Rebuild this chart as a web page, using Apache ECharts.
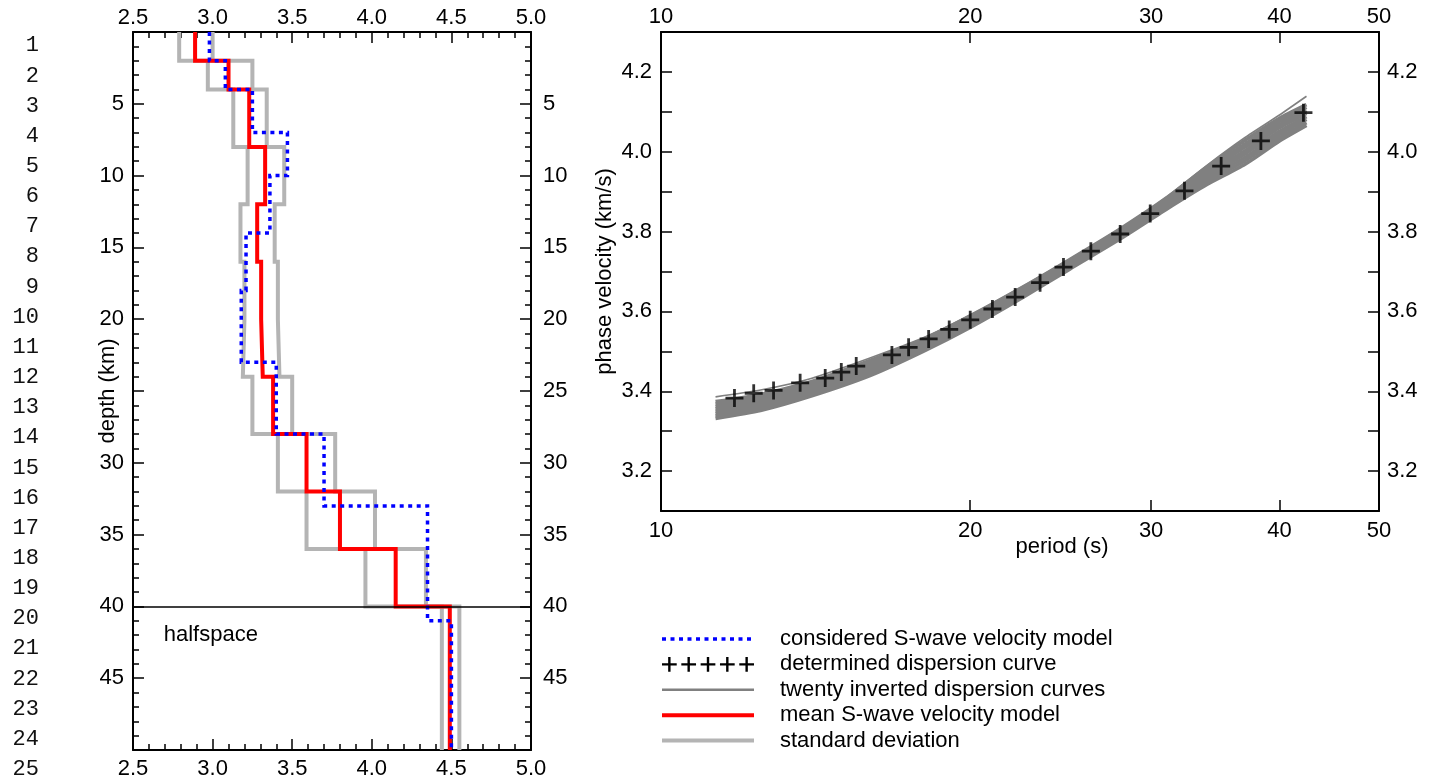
<!DOCTYPE html>
<html>
<head>
<meta charset="utf-8">
<script src="https://cdn.jsdelivr.net/npm/echarts@6/dist/echarts.min.js"></script>
<style>html,body{margin:0;padding:0;background:#fff}#c{width:1439px;height:776px}</style>
</head>
<body>
<div id="c"></div>
<script>
// ---------- data: left panel (S-wave velocity models vs depth) ----------
const layerLabels = ['1','2','3','4','5','6','7','8','9','10','11','12','13','14','15','16','17','18','19','20','21','22','23','24','25'];
const consideredDepths = [0, 2, 4, 7, 10, 14, 18, 23, 28, 33, 41, 50];
const consideredVs     = [2.98, 3.08, 3.25, 3.47, 3.36, 3.21, 3.18, 3.40, 3.70, 4.35, 4.50];
const meanDepths = [0, 2, 4, 8, 12, 16, 20, 24, 28, 32, 36, 40, 50];
const meanVs     = [2.89, 3.10, 3.23, 3.33, 3.28, 3.305, 3.315, 3.38, 3.59, 3.80, 4.15, 4.49];
const stdLowVs   = [2.79, 2.97, 3.13, 3.22, 3.175, 3.20, 3.19, 3.25, 3.41, 3.59, 3.96, 4.44];
const stdHighVs  = [3.00, 3.25, 3.34, 3.45, 3.39, 3.41, 3.42, 3.50, 3.77, 4.02, 4.34, 4.55];
const halfspaceDepth = 40;

// ---------- data: right panel (dispersion) ----------
const periodLabelValues = [10, 20, 30, 40, 50];
const periodTickValues  = [20, 30, 40];
const dispPeriods = [11.79, 12.31, 12.87, 13.66, 14.45, 14.98, 15.49, 16.78, 17.42, 18.22, 19.08, 20.0, 21.02, 22.12, 23.39, 24.65, 26.21, 27.99, 29.94, 32.33, 35.10, 38.37, 42.21];
const dispVel     = [3.383, 3.395, 3.402, 3.421, 3.433, 3.448, 3.463, 3.491, 3.510, 3.531, 3.555, 3.579, 3.606, 3.636, 3.672, 3.711, 3.751, 3.794, 3.845, 3.902, 3.964, 4.027, 4.098];
const curvePeriods = [11.3, 12.5, 14, 16, 18, 20, 22.5, 25, 28, 31, 34, 37, 40, 42.5];
const curve1 = [3.332, 3.352, 3.388, 3.440, 3.500, 3.560, 3.635, 3.706, 3.782, 3.855, 3.918, 3.968, 4.027, 4.066];
const curve2 = [3.338, 3.358, 3.393, 3.445, 3.504, 3.564, 3.639, 3.709, 3.785, 3.859, 3.924, 3.977, 4.035, 4.073];
const curve3 = [3.344, 3.363, 3.398, 3.451, 3.509, 3.568, 3.642, 3.712, 3.789, 3.863, 3.931, 3.985, 4.043, 4.081];
const curve4 = [3.350, 3.369, 3.403, 3.456, 3.513, 3.572, 3.646, 3.715, 3.792, 3.867, 3.937, 3.994, 4.051, 4.088];
const curve5 = [3.356, 3.375, 3.409, 3.462, 3.517, 3.576, 3.649, 3.719, 3.795, 3.870, 3.943, 4.002, 4.060, 4.096];
const curve6 = [3.362, 3.381, 3.414, 3.467, 3.521, 3.580, 3.653, 3.722, 3.798, 3.874, 3.949, 4.011, 4.068, 4.103];
const curve7 = [3.368, 3.386, 3.419, 3.473, 3.526, 3.584, 3.656, 3.725, 3.802, 3.878, 3.956, 4.019, 4.076, 4.111];
const curve8 = [3.374, 3.392, 3.424, 3.478, 3.530, 3.588, 3.660, 3.728, 3.805, 3.882, 3.962, 4.028, 4.084, 4.118];
const curve9 = [3.386, 3.403, 3.432, 3.484, 3.534, 3.592, 3.664, 3.733, 3.810, 3.886, 3.966, 4.035, 4.092, 4.139];
const curves = [curve1, curve2, curve3, curve4, curve5, curve6, curve7, curve8, curve9];

// ---------- helpers ----------
const FONT = "'Liberation Sans', Arial, Helvetica, sans-serif";
function steps(depths, vs) {
  const out = [];
  vs.forEach((v, i) => { out.push([v, depths[i]]); out.push([v, depths[i + 1]]); });
  return out;
}
const lg = Math.log10;
const tickLine = { color: '#000', width: 1.5 };
const axLine = { show: true, onZero: false, lineStyle: { color: '#000', width: 2 } };
const lbl = (extra) => Object.assign({ color: '#000', fontSize: 22, fontFamily: FONT }, extra);
const nameStyle = { color: '#000', fontSize: 22, fontFamily: FONT };

const plusSymbol = 'path://M0,7.6h18v2.8h-18Z M7.6,0h2.8v18h-2.8Z';
let plusRow = 'path://';
[8, 29, 50, 71, 92].forEach(c => { plusRow += `M${c - 8},6.7h16v2.6h-16Z M${c - 1.3},0h2.6v16h-2.6Z `; });

const velFmt = v => (Math.round(v * 10) % 2 === 0 ? v.toFixed(1) : '');

const chart = echarts.init(document.getElementById('c'), null, { renderer: 'canvas' });

const series = [
  {
    name: 'standard deviation', type: 'line', xAxisIndex: 0, yAxisIndex: 0,
    data: steps(meanDepths, stdLowVs), symbol: 'none',
    lineStyle: { color: '#b4b4b4', width: 4, join: 'miter' }, itemStyle: { color: '#b4b4b4' },
    markLine: {
      silent: true, symbol: ['none', 'none'], animation: false,
      lineStyle: { color: '#000', width: 1.5, type: 'solid' }, label: { show: false },
      data: [{ yAxis: halfspaceDepth }]
    },
    markPoint: {
      silent: true, symbol: 'rect', symbolSize: 1, itemStyle: { color: 'rgba(0,0,0,0)' },
      label: { show: true, position: 'right', distance: 0, formatter: 'halfspace', color: '#000', fontSize: 22, fontFamily: FONT },
      data: [{ coord: [2.69, 42] }]
    }
  },
  {
    name: 'standard deviation', type: 'line', xAxisIndex: 0, yAxisIndex: 0,
    data: steps(meanDepths, stdHighVs), symbol: 'none',
    lineStyle: { color: '#b4b4b4', width: 4, join: 'miter' }, itemStyle: { color: '#b4b4b4' }
  },
  {
    name: 'mean S-wave velocity model', type: 'line', xAxisIndex: 0, yAxisIndex: 0,
    data: steps(meanDepths, meanVs), symbol: 'none',
    lineStyle: { color: '#ff0000', width: 4, join: 'miter' }, itemStyle: { color: '#ff0000' }
  },
  {
    name: 'considered S-wave velocity model', type: 'line', xAxisIndex: 0, yAxisIndex: 0,
    data: steps(consideredDepths, consideredVs), symbol: 'none',
    lineStyle: { color: '#0000ff', width: 3.5, type: [4, 4.5], join: 'miter' }, itemStyle: { color: '#0000ff' }
  }
];
curves.forEach((c, k) => {
  series.push({
    name: 'twenty inverted dispersion curves', type: 'line', xAxisIndex: 2, yAxisIndex: 2,
    data: curvePeriods.map((p, i) => [lg(p), c[i]]), symbol: 'none', smooth: 0.2,
    lineStyle: { color: '#808080', width: k === 8 ? 1.6 : 3.6 }, itemStyle: { color: '#808080' }
  });
});
series.push({
  name: 'determined dispersion curve', type: 'scatter', xAxisIndex: 2, yAxisIndex: 2,
  data: dispPeriods.map((p, i) => [lg(p), dispVel[i]]),
  symbol: plusSymbol, symbolSize: 18, itemStyle: { color: '#000' }, z: 5
});

const option = {
  animation: false,
  backgroundColor: '#fff',
  grid: [
    { left: 133, top: 32, width: 398, height: 718, outerBoundsMode: 'none' },
    { left: 661, top: 32, width: 718, height: 479, outerBoundsMode: 'none' },
    { left: 47, top: 30.5, width: 1, height: 753.75, outerBoundsMode: 'none' }
  ],
  xAxis: [
    { gridIndex: 0, type: 'value', position: 'bottom', min: 2.5, max: 5, interval: 0.5,
      axisLine: axLine, splitLine: { show: false },
      axisTick: { show: true, inside: true, length: 11, lineStyle: tickLine },
      minorTick: { show: true, splitNumber: 5, length: 6, lineStyle: tickLine },
      axisLabel: lbl({ margin: 8, formatter: v => v.toFixed(1) }) },
    { gridIndex: 0, type: 'value', position: 'top', min: 2.5, max: 5, interval: 0.5,
      axisLine: axLine, splitLine: { show: false },
      axisTick: { show: true, inside: true, length: 11, lineStyle: tickLine },
      minorTick: { show: true, splitNumber: 5, length: 6, lineStyle: tickLine },
      axisLabel: lbl({ margin: 3, formatter: v => v.toFixed(1) }) },
    { gridIndex: 1, type: 'value', position: 'bottom', min: lg(10), max: lg(50),
      axisLine: axLine, splitLine: { show: false },
      axisTick: { show: true, inside: true, length: 11, lineStyle: tickLine, customValues: periodTickValues.map(lg) },
      axisLabel: lbl({ margin: 9, customValues: periodLabelValues.map(lg), formatter: v => String(Math.round(Math.pow(10, v))) }),
      name: 'period (s)', nameLocation: 'middle', nameGap: 25, nameMoveOverlap: false,
      nameTextStyle: Object.assign({ padding: [0, 0, 0, 84] }, nameStyle) },
    { gridIndex: 1, type: 'value', position: 'top', min: lg(10), max: lg(50),
      axisLine: axLine, splitLine: { show: false },
      axisTick: { show: true, inside: true, length: 11, lineStyle: tickLine, customValues: periodTickValues.map(lg) },
      axisLabel: lbl({ margin: 4, customValues: periodLabelValues.map(lg), formatter: v => String(Math.round(Math.pow(10, v))) }) },
    { gridIndex: 2, type: 'value', show: false }
  ],
  yAxis: [
    { gridIndex: 0, type: 'value', position: 'left', inverse: true, min: 0, max: 50, interval: 5,
      axisLine: axLine, splitLine: { show: false },
      axisTick: { show: true, inside: true, length: 11, lineStyle: tickLine },
      minorTick: { show: true, splitNumber: 5, length: 6, lineStyle: tickLine },
      axisLabel: lbl({ margin: 9, showMinLabel: false, showMaxLabel: false, formatter: v => (v === 25 ? '' : String(v)) }),
      name: 'depth (km)', nameLocation: 'middle', nameGap: 14, nameMoveOverlap: false, nameTextStyle: nameStyle },
    { gridIndex: 0, type: 'value', position: 'right', inverse: true, min: 0, max: 50, interval: 5,
      axisLine: axLine, splitLine: { show: false },
      axisTick: { show: true, inside: true, length: 11, lineStyle: tickLine },
      minorTick: { show: true, splitNumber: 5, length: 6, lineStyle: tickLine },
      axisLabel: lbl({ margin: 12, showMinLabel: false, showMaxLabel: false }) },
    { gridIndex: 1, type: 'value', position: 'left', min: 3.1, max: 4.3, interval: 0.1,
      axisLine: axLine, splitLine: { show: false },
      axisTick: { show: true, inside: true, length: 11, lineStyle: tickLine },
      axisLabel: lbl({ margin: 9, formatter: velFmt }),
      name: 'phase velocity (km/s)', nameLocation: 'middle', nameGap: 45, nameMoveOverlap: false, nameTextStyle: nameStyle },
    { gridIndex: 1, type: 'value', position: 'right', min: 3.1, max: 4.3, interval: 0.1,
      axisLine: axLine, splitLine: { show: false },
      axisTick: { show: true, inside: true, length: 11, lineStyle: tickLine },
      axisLabel: lbl({ margin: 8, formatter: velFmt }) },
    { gridIndex: 2, type: 'category', data: layerLabels, inverse: true,
      axisLine: { show: false }, axisTick: { show: false }, splitLine: { show: false },
      axisLabel: { interval: 0, margin: 8, color: '#111', fontSize: 22, fontFamily: "'Liberation Mono', 'DejaVu Sans Mono', monospace" } }
  ],
  legend: {
    orient: 'vertical', left: 660, top: 628, padding: 0, itemWidth: 92, itemHeight: 16, itemGap: 3.4,
    selectedMode: false,
    lineStyle: { width: 'inherit' },
    itemStyle: { color: 'rgba(0,0,0,0)', borderWidth: 0, opacity: 0 },
    textStyle: { color: '#000', fontSize: 22, fontFamily: FONT, lineHeight: 22, padding: [0, 0, 0, 21] },
    data: [
      { name: 'considered S-wave velocity model' },
      { name: 'determined dispersion curve', icon: plusRow, itemStyle: { color: '#000', opacity: 1 } },
      { name: 'twenty inverted dispersion curves', lineStyle: { width: 2.6 } },
      { name: 'mean S-wave velocity model' },
      { name: 'standard deviation' }
    ]
  },
  series: series
};
chart.setOption(option);
</script>
</body>
</html>
